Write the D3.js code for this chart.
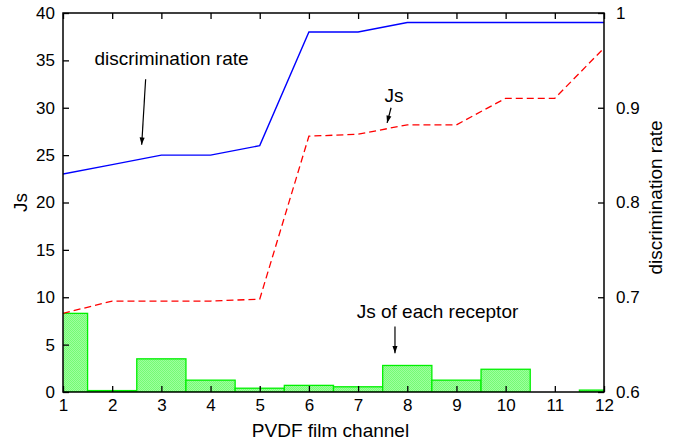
<!DOCTYPE html>
<html>
<head>
<meta charset="utf-8">
<script src="https://cdn.jsdelivr.net/npm/d3@7"></script>
<style>
  body { margin: 0; background: #fff; }
  text { font-family: "Liberation Sans", Arial, sans-serif; fill: #000; }
</style>
</head>
<body>
<svg width="678" height="444"></svg>
<script>
  const channels = [1, 2, 3, 4, 5, 6, 7, 8, 9, 10, 11, 12];
  const jsValues = [8.3, 9.6, 9.6, 9.6, 9.8, 27.0, 27.2, 28.2, 28.2, 31.0, 31.0, 36.3];
  const rateValues = [0.83, 0.84, 0.85, 0.85, 0.86, 0.98, 0.98, 0.99, 0.99, 0.99, 0.99, 0.99];
  const receptorJs = [8.3, 0.15, 3.5, 1.25, 0.4, 0.7, 0.55, 2.8, 1.25, 2.4, 0, 0.2];
  const leftTicks = [0, 5, 10, 15, 20, 25, 30, 35, 40];
  const rightTicks = [0.6, 0.7, 0.8, 0.9, 1];

  const svg = d3.select("svg");
  const margin = { top: 13, right: 74, bottom: 52, left: 63 };
  const width = +svg.attr("width");
  const height = +svg.attr("height");
  const innerWidth = width - margin.left - margin.right;
  const innerHeight = height - margin.top - margin.bottom;
  const tickFont = 17;
  const labelFont = 19;

  const xScale = d3.scaleLinear().domain([1, 12]).range([0, innerWidth]);
  const yScale = d3.scaleLinear().domain([0, 40]).range([innerHeight, 0]);
  const y2Scale = d3.scaleLinear().domain([0.6, 1]).range([innerHeight, 0]);

  const defs = svg.append("defs");
  defs.append("clipPath").attr("id", "plot-clip")
    .append("rect").attr("width", innerWidth).attr("height", innerHeight);
  const pat = defs.append("pattern").attr("id", "hatch")
    .attr("width", 2).attr("height", 2).attr("patternUnits", "userSpaceOnUse");
  pat.append("rect").attr("width", 2).attr("height", 2).attr("fill", "#9dff9d");
  pat.append("rect").attr("width", 1).attr("height", 1).attr("fill", "#74fb74");
  pat.append("rect").attr("x", 1).attr("y", 1).attr("width", 1).attr("height", 1).attr("fill", "#74fb74");

  const g = svg.append("g").attr("transform", `translate(${margin.left},${margin.top})`);
  const plot = g.append("g").attr("clip-path", "url(#plot-clip)");

  // bars: Js of each receptor
  plot.selectAll("rect.bar")
    .data(channels.filter((c, i) => receptorJs[i] > 0))
    .enter().append("rect")
    .attr("class", "bar")
    .attr("x", c => xScale(c - 0.5))
    .attr("width", c => xScale(c + 0.5) - xScale(c - 0.5))
    .attr("y", c => yScale(receptorJs[c - 1]))
    .attr("height", c => yScale(0) - yScale(receptorJs[c - 1]))
    .attr("fill", "url(#hatch)")
    .attr("stroke", "#00f000")
    .attr("stroke-width", 1.3);

  // Js line
  plot.append("path")
    .datum(channels)
    .attr("fill", "none")
    .attr("stroke", "#ff0000")
    .attr("stroke-width", 1.3)
    .attr("stroke-dasharray", "7,4")
    .attr("d", d3.line().x(c => xScale(c)).y(c => yScale(jsValues[c - 1])));

  // discrimination rate line
  plot.append("path")
    .datum(channels)
    .attr("fill", "none")
    .attr("stroke", "#0000ff")
    .attr("stroke-width", 1.4)
    .attr("d", d3.line().x(c => xScale(c)).y(c => y2Scale(rateValues[c - 1])));

  // axes
  const axisFont = a => a.selectAll("text").attr("font-size", tickFont).attr("font-family", "Liberation Sans, Arial, sans-serif");

  const xAxis = g.append("g").attr("transform", `translate(0,${innerHeight})`)
    .call(d3.axisBottom(xScale).tickValues(channels).tickFormat(d3.format("d")).tickSize(-6).tickPadding(7))
    .call(axisFont);
  const xTop = g.append("g")
    .call(d3.axisTop(xScale).tickValues(channels).tickFormat("").tickSize(-6));
  const yAxis = g.append("g")
    .call(d3.axisLeft(yScale).tickValues(leftTicks).tickSize(-6).tickPadding(8))
    .call(axisFont);
  const y2Axis = g.append("g").attr("transform", `translate(${innerWidth},0)`)
    .call(d3.axisRight(y2Scale).tickValues(rightTicks).tickFormat(d => d === 1 ? "1" : d3.format(".1f")(d)).tickSize(-6).tickPadding(12))
    .call(axisFont);
  [xAxis, xTop, yAxis, y2Axis].forEach(a => {
    a.select(".domain").remove();
    a.selectAll("line").attr("stroke", "#000").attr("stroke-width", 1.3);
  });

  g.append("rect")
    .attr("width", innerWidth).attr("height", innerHeight)
    .attr("fill", "none").attr("stroke", "#000").attr("stroke-width", 1.5);

  // axis labels
  g.append("text")
    .attr("x", innerWidth / 2 - 3).attr("y", innerHeight + 45)
    .attr("text-anchor", "middle").attr("font-size", labelFont)
    .text("PVDF film channel");
  g.append("text")
    .attr("transform", `translate(-36,${innerHeight / 2}) rotate(-90)`)
    .attr("text-anchor", "middle").attr("font-size", labelFont)
    .text("Js");
  g.append("text")
    .attr("transform", `translate(${innerWidth + 58},${innerHeight / 2 - 5}) rotate(-90)`)
    .attr("text-anchor", "middle").attr("font-size", labelFont)
    .text("discrimination rate");

  // annotations
  defs.append("marker").attr("id", "arrow")
    .attr("viewBox", "0 0 10 10").attr("refX", 10).attr("refY", 5)
    .attr("markerWidth", 7).attr("markerHeight", 6).attr("orient", "auto")
    .append("path").attr("d", "M0,1.5 L10,5 L0,8.5 Z").attr("fill", "#000");

  const note = (label, tx, ty, x1, y1, x2, y2) => {
    g.append("text").attr("x", tx).attr("y", ty)
      .attr("text-anchor", "middle").attr("font-size", labelFont).text(label);
    g.append("line")
      .attr("x1", xScale(x1)).attr("y1", yScale(y1))
      .attr("x2", xScale(x2)).attr("y2", yScale(y2))
      .attr("stroke", "#000").attr("stroke-width", 1.2)
      .attr("marker-end", "url(#arrow)");
  };
  note("discrimination rate", 108.5, 52, 2.68, 33.0, 2.6, 26.1);
  note("Js", 331, 89, 7.67, 30.0, 7.59, 28.4);
  note("Js of each receptor", 374.5, 305, 7.75, 6.9, 7.75, 4.1);
</script>
</body>
</html>
